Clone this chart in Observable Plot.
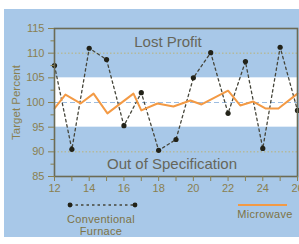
<!DOCTYPE html>
<html><head><meta charset="utf-8">
<script src="https://cdn.jsdelivr.net/npm/d3@7"></script>
<script src="https://cdn.jsdelivr.net/npm/@observablehq/plot@0.6"></script>
<style>
html,body{margin:0;padding:0;background:#fff;width:299px;height:244px;overflow:hidden;font-family:"Liberation Sans",Arial,sans-serif}
#panel{position:absolute;left:4px;top:9px;width:295px;height:228px;background:#a8c8e8}
#chart{position:absolute;left:0;top:0}
#chart svg{overflow:visible}
.leg{position:absolute;color:#7d7346;font-size:11px;text-align:center;line-height:12px;letter-spacing:0.3px;white-space:nowrap;transform:translateX(-50%)}
#sw{position:absolute;left:0;top:0;overflow:visible}
</style></head><body>
<div id="panel">
  <div id="chart"></div>
  <svg id="sw" width="295" height="228"></svg>
  <div class="leg" style="left:97px;top:204px">Conventional<br>Furnace</div>
  <div class="leg" style="left:261px;top:199px">Microwave</div>
</div>
<script>
// Data
const days = [12,13,14,15,16,17,18,19,20,21,22,23,24,25,26];
const conventional = [107.5,90.5,111,108.7,95.3,102,90.3,92.5,105,110.1,97.8,108.3,90.7,111.2,98.4];
const microwaveX = [12,12.63,13.5,14.25,15.05,16.55,17.0,17.93,18.85,19.83,20.47,22.0,22.7,23.45,24.15,24.9,26];
const microwave  = [98.8,101.6,99.8,101.8,97.8,101.8,98.4,99.8,99.2,100.4,99.6,102.4,99.4,100.2,98.8,98.8,101.8];
const yTicks = [85,90,95,100,105,110,115];
const yMinor = [87.5,92.5,97.5,102.5,107.5,112.5];
const xTicks = [12,14,16,18,20,22,24,26];
const xMinor = [13,15,17,19,21,23,25];
const specBand = [{lo:95, hi:105}];
const gridLines = [90,110];
const targetLine = [100];

const conv = days.map((d,i)=>({day:d, v:conventional[i]}));
const micro = microwaveX.map((d,i)=>({day:d, v:microwave[i]}));

const olive = "#8a8050";
const txt = "#66665a";

const chart = Plot.plot({
  width: 295, height: 185,
  marginLeft: 50, marginRight: 2, marginTop: 19, marginBottom: 18,
  x: {domain:[12,26]},
  y: {domain:[85,115]},
  style: {fontFamily: "'Liberation Sans', Arial, sans-serif", background: "transparent"},
  marks: [
    Plot.rect(specBand, {y1:"lo", y2:"hi", fill:"#ffffff"}),
    Plot.ruleY(gridLines, {stroke:"#b9b27a", strokeDasharray:"1.5,2", strokeWidth:1}),
    Plot.ruleY(targetLine, {stroke:"#9cbce0", strokeDasharray:"5,3", strokeWidth:1.2}),
    Plot.line(conv, {x:"day", y:"v", stroke:"#45453a", strokeWidth:1.3, strokeDasharray:"2.5,3"}),
    Plot.dot(conv, {x:"day", y:"v", r:2.6, fill:"#222218"}),
    Plot.line(micro, {x:"day", y:"v", stroke:"#f39a45", strokeWidth:2}),
    Plot.frame({stroke:"#6b6b55", strokeWidth:1.6}),
    Plot.axisY(yTicks, {tickSize:6, tickPadding:4, stroke:olive, fill:olive, fontSize:11, label:null}),
    Plot.axisY(yMinor, {tickSize:3.5, text:null, stroke:olive, label:null}),
    Plot.axisX(xTicks, {tickSize:5, tickPadding:3, stroke:olive, fill:olive, fontSize:11, label:null}),
    Plot.axisX(xMinor, {tickSize:5, text:null, stroke:olive, label:null}),
    Plot.text(["Target Percent"], {frameAnchor:"left", textAnchor:"middle", rotate:-90, dx:-38, fill:olive, fontSize:11.5}),
    Plot.text(["Lost Profit"], {frameAnchor:"top", dx:-8, dy:14, fill:txt, fontSize:15, lineAnchor:"middle", style:"letter-spacing:0.5px"}),
    Plot.text(["Out of Specification"], {frameAnchor:"bottom", dx:-4, dy:-12.5, fill:txt, fontSize:15, lineAnchor:"middle"})
  ]
});
document.getElementById("chart").appendChild(chart);

// Legend swatches
const sw = d3.select("#sw");
sw.append("line").attr("x1",66).attr("x2",131).attr("y1",196).attr("y2",196)
  .attr("stroke","#45453a").attr("stroke-width",1.3).attr("stroke-dasharray","2.5,3");
sw.selectAll("circle").data([66,131]).join("circle").attr("cx",d=>d).attr("cy",196).attr("r",2.4).attr("fill","#222218");
sw.append("line").attr("x1",234).attr("x2",283).attr("y1",196).attr("y2",196)
  .attr("stroke","#f39a45").attr("stroke-width",2.2);
</script>
</body></html>
